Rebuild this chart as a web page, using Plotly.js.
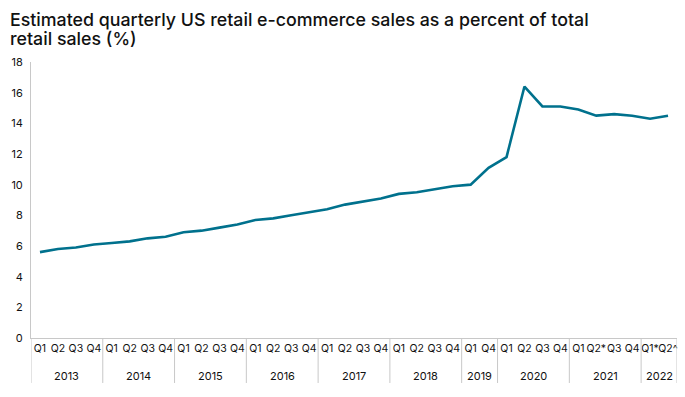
<!DOCTYPE html>
<html>
<head>
<meta charset="utf-8">
<script src="https://cdn.plot.ly/plotly-3.0.1.min.js"></script>
<style>html,body{margin:0;padding:0;background:#fff;}#chart{width:685px;height:397px;}</style>
</head>
<body>
<div id="chart"></div>
<script>
const years = ["2013","2013","2013","2013","2014","2014","2014","2014","2015","2015","2015","2015","2016","2016","2016","2016","2017","2017","2017","2017","2018","2018","2018","2018","2019","2019","2020","2020","2020","2020","2021","2021","2021","2021","2022","2022"];
const quarters = ["Q1","Q2","Q3","Q4","Q1","Q2","Q3","Q4","Q1","Q2","Q3","Q4","Q1","Q2","Q3","Q4","Q1","Q2","Q3","Q4","Q1","Q2","Q3","Q4","Q1","Q4","Q1","Q2","Q3","Q4","Q1","Q2*","Q3","Q4","Q1*","Q2^"];
const ecomShare = [5.6,5.8,5.9,6.1,6.2,6.3,6.5,6.6,6.9,7.0,7.2,7.4,7.7,7.8,8.0,8.2,8.4,8.7,8.9,9.1,9.4,9.5,9.7,9.9,10.0,11.1,11.8,16.4,15.1,15.1,14.9,14.5,14.6,14.5,14.3,14.5];
const yTicks = [0,2,4,6,8,10,12,14,16,18];
const titleLines = ["Estimated quarterly US retail e-commerce sales as a percent of total", "retail sales (%)"];

const idx = quarters.map((q, i) => i);

// year groups -> boundaries and label centres
const groups = [];
years.forEach((y, i) => {
  if (!groups.length || groups[groups.length - 1].year !== y) groups.push({year: y, start: i, end: i});
  else groups[groups.length - 1].end = i;
});

const gridCol = "#c8c8c8";
const shapes = [];
const annotations = [];
const divBottom = -0.163;
groups.forEach((g, k) => {
  if (k === 0) shapes.push({type: "line", xref: "x", yref: "paper", x0: g.start - 0.5, x1: g.start - 0.5, y0: 0, y1: divBottom, line: {color: gridCol, width: 1}});
  shapes.push({type: "line", xref: "x", yref: "paper", x0: g.end + 0.5, x1: g.end + 0.5, y0: 0, y1: divBottom, line: {color: gridCol, width: 1}});
  annotations.push({xref: "x", yref: "paper", x: (g.start + g.end) / 2, y: -0.138, yanchor: "middle", xanchor: "center", text: g.year, showarrow: false, font: {size: 11, color: "#111"}});
});
const titleY = [1.1996, 1.1289];
titleLines.forEach((t, i) => {
  annotations.push({
    xref: "paper", yref: "paper", x: -0.0356, y: titleY[i], xanchor: "left", yanchor: "top", align: "left",
    text: t, showarrow: false,
    font: {family: "Inter, 'Open Sans', sans-serif", size: 17.8, weight: 500, color: "#111"}
  });
});

const trace = {
  type: "scatter",
  mode: "lines",
  x: idx,
  y: ecomShare,
  line: {color: "#00718d", width: 2.6},
  hoverinfo: "y"
};

const layout = {
  width: 685, height: 397,
  margin: {l: 31, r: 8, t: 62, b: 59},
  paper_bgcolor: "#fff", plot_bgcolor: "#fff",
  font: {family: "Inter, 'Open Sans', sans-serif", color: "#111", size: 11},
  showlegend: false,
  xaxis: {
    range: [-0.5, quarters.length - 0.5],
    tickvals: idx, ticktext: quarters, tickangle: 0,
    showline: true, linecolor: gridCol, linewidth: 1,
    showgrid: false, zeroline: false, ticks: "",
    tickfont: {size: 10.5, color: "#111"},
    fixedrange: true
  },
  yaxis: {
    range: [0, 18],
    tickvals: yTicks,
    showline: true, linecolor: gridCol, linewidth: 1,
    showgrid: false, zeroline: false, ticks: "",
    ticklabelstandoff: 5,
    tickfont: {size: 11, color: "#111"},
    fixedrange: true
  },
  shapes: shapes,
  annotations: annotations
};

Plotly.newPlot("chart", [trace], layout, {displayModeBar: false, staticPlot: true});
</script>
</body>
</html>
